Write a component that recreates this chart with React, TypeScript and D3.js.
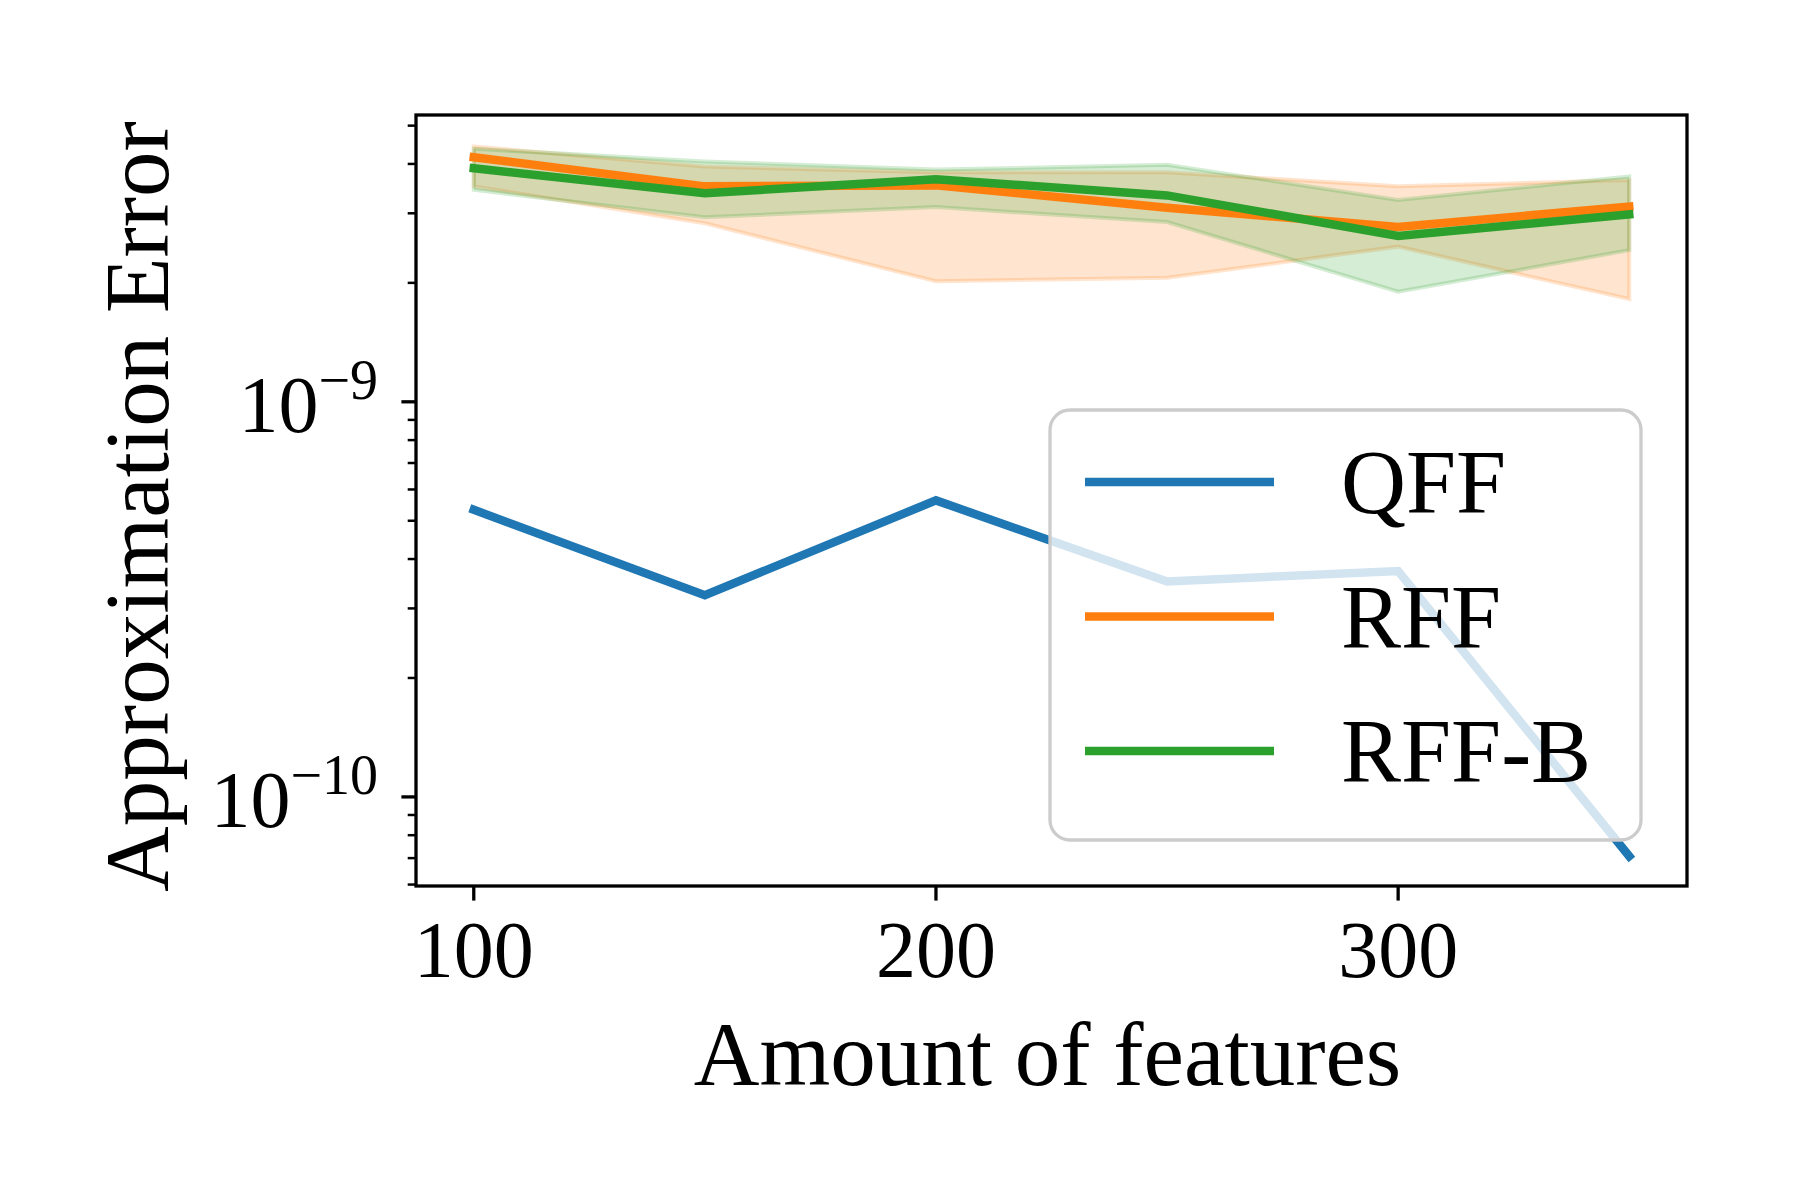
import { useEffect, useRef } from 'react'
import * as d3 from 'd3'

const features = [100, 150, 200, 250, 300, 350]
const qffMean = [5.33e-10, 3.24e-10, 5.63e-10, 3.51e-10, 3.73e-10, 7.08e-11]
const rffMean = [4.16e-9, 3.51e-9, 3.53e-9, 3.1e-9, 2.77e-9, 3.12e-9]
const rffUpper = [4.43e-9, 3.94e-9, 3.81e-9, 3.81e-9, 3.51e-9, 3.64e-9]
const rffLower = [3.51e-9, 2.83e-9, 2.02e-9, 2.06e-9, 2.47e-9, 1.82e-9]
const rffbMean = [3.9e-9, 3.37e-9, 3.66e-9, 3.33e-9, 2.63e-9, 2.98e-9]
const rffbUpper = [4.37e-9, 4.06e-9, 3.87e-9, 3.98e-9, 3.24e-9, 3.72e-9]
const rffbLower = [3.44e-9, 2.93e-9, 3.11e-9, 2.85e-9, 1.9e-9, 2.42e-9]
const xTicks = [100, 200, 300]
const yMajor = [1e-10, 1e-9]
const yMajorLabels = ['\u221210', '\u22129']
const legendLabels = ['QFF', 'RFF', 'RFF-B']
const colors = ['#1f77b4', '#ff7f0e', '#2ca02c']

const W = 1800
const H = 1200
const FONT = '"Liberation Serif", "DejaVu Serif", serif'

const App = () => {
  const svgRef = useRef<SVGSVGElement | null>(null)
  const plot = { left: 416, right: 1687, top: 115, bottom: 886 }

  useEffect(() => {
    if (!svgRef.current) return
    const svg = d3.select(svgRef.current)
    svg.selectAll('*').remove()

    const x = d3.scaleLinear().domain([87.5, 362.5]).range([plot.left, plot.right])
    const y = d3.scaleLog().domain([5.95e-11, 5.32e-9]).range([plot.bottom, plot.top])

    svg.append('rect').attr('width', W).attr('height', H).attr('fill', 'white')

    const clip = svg.append('clipPath').attr('id', 'plot-clip')
    clip.append('rect')
      .attr('x', plot.left).attr('y', plot.top)
      .attr('width', plot.right - plot.left).attr('height', plot.bottom - plot.top)

    const g = svg.append('g').attr('clip-path', 'url(#plot-clip)')

    // bands (mean +- spread)
    const area = d3.area<number>()
      .x((_, i) => x(features[i]))
    const bands: [number[], number[], string][] = [
      [rffLower, rffUpper, colors[1]],
      [rffbLower, rffbUpper, colors[2]],
    ]
    bands.forEach(([lo, hi, c]) => {
      g.append('path')
        .datum(features)
        .attr('d', area.y0((_, i) => y(lo[i])).y1((_, i) => y(hi[i])))
        .attr('fill', c)
        .attr('fill-opacity', 0.2)
        .attr('stroke', c)
        .attr('stroke-opacity', 0.2)
        .attr('stroke-width', 4)
    })

    // lines
    const line = d3.line<number>().x((_, i) => x(features[i])).y(d => y(d))
    ;[qffMean, rffMean, rffbMean].forEach((s, k) => {
      g.append('path')
        .datum(s)
        .attr('d', line)
        .attr('fill', 'none')
        .attr('stroke', colors[k])
        .attr('stroke-width', 8.5)
        .attr('stroke-linecap', 'square')
    })

    // frame
    svg.append('rect')
      .attr('x', plot.left).attr('y', plot.top)
      .attr('width', plot.right - plot.left).attr('height', plot.bottom - plot.top)
      .attr('fill', 'none').attr('stroke', 'black').attr('stroke-width', 3.3)

    // x ticks
    xTicks.forEach(t => {
      svg.append('line')
        .attr('x1', x(t)).attr('x2', x(t))
        .attr('y1', plot.bottom).attr('y2', plot.bottom + 14.6)
        .attr('stroke', 'black').attr('stroke-width', 3.3)
      svg.append('text')
        .attr('x', x(t)).attr('y', 977)
        .attr('text-anchor', 'middle')
        .attr('font-family', FONT).attr('font-size', 80)
        .text(t)
    })

    // y ticks, major and minor
    const [d0, d1] = y.domain()
    y.ticks().filter(t => t >= d0 && t <= d1).forEach(t => {
      const major = yMajor.some(m => Math.abs(m - t) / m < 1e-6)
      svg.append('line')
        .attr('x1', plot.left - (major ? 14.6 : 8.3)).attr('x2', plot.left)
        .attr('y1', y(t)).attr('y2', y(t))
        .attr('stroke', 'black').attr('stroke-width', major ? 3.3 : 2.5)
    })

    // y major labels
    yMajor.forEach((t, i) => {
      const txt = svg.append('text')
        .attr('x', 378).attr('y', y(t) + 30)
        .attr('text-anchor', 'end')
        .attr('font-family', FONT).attr('font-size', 80)
      txt.append('tspan').text('10')
      txt.append('tspan').attr('dy', -33).attr('font-size', 56).text(yMajorLabels[i])
    })

    // axis labels
    svg.append('text')
      .attr('x', (plot.left + plot.right) / 2 - 4).attr('y', 1085)
      .attr('text-anchor', 'middle')
      .attr('font-family', FONT).attr('font-size', 91)
      .text('Amount of features')

    svg.append('text')
      .attr('transform', `translate(168,${(plot.top + plot.bottom) / 2 + 6}) rotate(-90)`)
      .attr('text-anchor', 'middle')
      .attr('font-family', FONT).attr('font-size', 91)
      .text('Approximation Error')

    // legend
    const lg = svg.append('g')
    lg.append('rect')
      .attr('x', 1057 - 7).attr('y', 410)
      .attr('width', 591).attr('height', 430)
      .attr('rx', 20)
      .attr('fill', 'white').attr('fill-opacity', 0.8)
      .attr('stroke', '#cccccc').attr('stroke-width', 3.3)
    legendLabels.forEach((name, i) => {
      const ly = 482 + i * 134.5
      lg.append('line')
        .attr('x1', 1085).attr('x2', 1274)
        .attr('y1', ly).attr('y2', ly)
        .attr('stroke', colors[i]).attr('stroke-width', 8.5)
      lg.append('text')
        .attr('x', 1341).attr('y', ly + 31)
        .attr('font-family', FONT).attr('font-size', 90)
        .text(name)
    })
  }, [])

  return (
    <svg
      ref={svgRef}
      width={W}
      height={H}
      style={{ position: 'absolute', left: 0, top: 0, display: 'block' }}
    />
  )
}

export default App
